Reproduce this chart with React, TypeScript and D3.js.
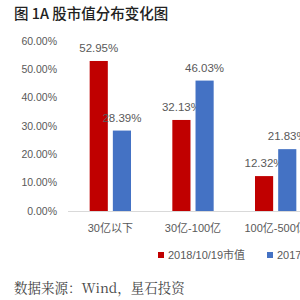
import React from "react";
import * as d3 from "d3";

const categories = ["30亿以下", "30亿-100亿", "100亿-500亿"];
const seriesNames = ["2018/10/19市值", "2017年末市值"];
const series2018 = [0.5295, 0.3213, 0.1232];
const series2017 = [0.2839, 0.4603, 0.2183];
const yTicks = [0, 0.1, 0.2, 0.3, 0.4, 0.5, 0.6];
const colors = ["#C00000", "#4472C4"];

const W = 300;
const H = 300;

export default function App() {
  const x = d3.scaleBand<string>().domain(categories).range([69, 317]).paddingInner(0.5).paddingOuter(0.25);
  const xi = d3.scaleBand<string>().domain(seriesNames).range([0, x.bandwidth()]).paddingInner(0.217);
  const y = d3.scaleLinear().domain([0, 0.6]).range([211, 41]);
  const fmt = d3.format(".2%");
  const data = [series2018, series2017];
  const font = "'Liberation Sans', Arial, 'Noto Sans CJK SC', sans-serif";

  return (
    <svg width={W} height={H} style={{ position: "absolute", left: 0, top: 0, background: "#fff" }}>
      <rect x={0} y={0} width={W} height={H} fill="#fff" />
      <text x={14} y={19} fontFamily="'Noto Sans CJK SC', sans-serif" fontSize={14.5} fontWeight={500} fill="#222">
        图 1A 股市值分布变化图
      </text>
      {yTicks.map((t) => (
        <text key={t} x={57} y={y(t)} dy="0.35em" textAnchor="end" fontFamily={font} fontSize={10.5} fill="#595959">
          {fmt(t)}
        </text>
      ))}
      <line x1={68} x2={W} y1={211.5} y2={211.5} stroke="#d9d9d9" strokeWidth={1} />
      {data.map((vals, si) =>
        vals.map((v, ci) => {
          const bx = (x(categories[ci]) as number) + (xi(seriesNames[si]) as number);
          const bw = xi.bandwidth();
          return (
            <g key={`${si}-${ci}`}>
              <rect x={bx} y={y(v)} width={bw} height={y(0) - y(v)} fill={colors[si]} />
              <text x={bx + bw / 2} y={y(v) - 9} textAnchor="middle" fontFamily={font} fontSize={11.5} fill="#595959">
                {fmt(v)}
              </text>
            </g>
          );
        })
      )}
      {categories.map((c) => (
        <text key={c} x={(x(c) as number) + x.bandwidth() / 2} y={232} textAnchor="middle" fontFamily={font} fontSize={11} fill="#595959">
          {c}
        </text>
      ))}
      {seriesNames.map((s, i) => {
        const lx = [158, 267][i];
        return (
          <g key={s}>
            <rect x={lx} y={252} width={6} height={6} fill={colors[i]} />
            <text x={lx + 10} y={259} fontFamily={font} fontSize={11} fill="#595959">
              {s}
            </text>
          </g>
        );
      })}
      <text x={14} y={293} fontFamily="'Noto Serif CJK SC', 'Noto Sans CJK SC', serif" fontSize={13.5} fill="#444">
        数据来源：Wind，星石投资
      </text>
    </svg>
  );
}
